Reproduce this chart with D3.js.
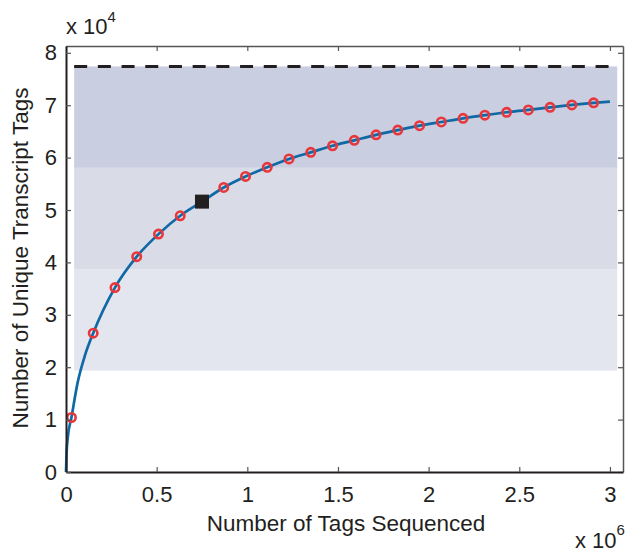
<!DOCTYPE html>
<html>
<head>
<meta charset="utf-8">
<script src="https://cdn.jsdelivr.net/npm/d3@7"></script>
<style>
  html, body { margin: 0; padding: 0; background: #fff; }
  svg text { font-family: "Liberation Sans", Arial, Helvetica, sans-serif; fill: #231f20; }
</style>
</head>
<body>
<svg id="chart" width="626" height="552"></svg>
<script>
// Tags sequenced (x 10^6) and unique transcript tags found (x 10^4)
const sampleTags   = [0.03, 0.15, 0.27, 0.39, 0.51, 0.63, 0.87, 0.99, 1.11, 1.23, 1.35, 1.47, 1.59,
                      1.71, 1.83, 1.95, 2.07, 2.19, 2.31, 2.43, 2.55, 2.67, 2.79, 2.91];
const sampleUnique = [1.04, 2.65, 3.52, 4.11, 4.54, 4.89, 5.43, 5.64, 5.815, 5.975, 6.10, 6.225, 6.33,
                      6.435, 6.525, 6.61, 6.68, 6.75, 6.81, 6.865, 6.91, 6.96, 7.005, 7.045];

// Saturation curve
const curveTags   = [0, 0.003, 0.01, 0.03, 0.065, 0.105, 0.15, 0.27, 0.39, 0.51, 0.63, 0.75, 0.87, 0.99,
                     1.11, 1.23, 1.35, 1.47, 1.59, 1.71, 1.83, 1.95, 2.07, 2.19, 2.31, 2.43, 2.55,
                     2.67, 2.79, 2.91, 3.0];
const curveUnique = [0, 0.35, 0.66, 1.04, 1.72, 2.23, 2.65, 3.52, 4.11, 4.54, 4.89, 5.16, 5.43, 5.64,
                     5.815, 5.975, 6.10, 6.225, 6.33, 6.435, 6.525, 6.61, 6.68, 6.75, 6.81, 6.865, 6.91,
                     6.96, 7.005, 7.045, 7.07];

// Current sequencing depth
const currentTags = 0.75;
const currentUnique = 5.16;

// Estimated total and quartile bands
const totalUnique = 7.74;
const bandLevels = [1.935, 3.87, 5.805, 7.74];
const bandColors = ["#e4e6ef", "#d9dce6", "#c9cee1"];
const bandExtent = [0.045, 3.04];

const xTicks = [0, 0.5, 1, 1.5, 2, 2.5, 3];
const xTickLabels = ["0", "0.5", "1", "1.5", "2", "2.5", "3"];
const yTicks = [0, 1, 2, 3, 4, 5, 6, 7, 8];
const yTickLabels = ["0", "1", "2", "3", "4", "5", "6", "7", "8"];

const svg = d3.select("#chart");
const plotLeft = 66, plotRight = 623, plotTop = 46, plotBottom = 472;

const x = d3.scaleLinear().domain([0, 3.072]).range([plotLeft, plotRight]);
const y = d3.scaleLinear().domain([0, 8.13]).range([plotBottom, plotTop]);

// Quartile bands
const bands = bandColors.map((c, i) => ({ lo: bandLevels[i], hi: bandLevels[i + 1], color: c }));
svg.append("g").selectAll("rect").data(bands).join("rect")
  .attr("x", x(bandExtent[0]))
  .attr("width", x(bandExtent[1]) - x(bandExtent[0]))
  .attr("y", d => y(d.hi))
  .attr("height", d => y(d.lo) - y(d.hi))
  .attr("fill", d => d.color);

// Estimated total
svg.append("line")
  .attr("x1", x(bandExtent[0])).attr("x2", x(bandExtent[1]))
  .attr("y1", y(totalUnique)).attr("y2", y(totalUnique))
  .attr("stroke", "#231f20").attr("stroke-width", 3)
  .attr("stroke-dasharray", "13,10.7");

// Curve
const curvePts = curveTags.map((t, i) => [t, curveUnique[i]]);
svg.append("path")
  .datum(curvePts)
  .attr("fill", "none")
  .attr("stroke", "#0f69a5")
  .attr("stroke-width", 2.7)
  .attr("d", d3.line().x(d => x(d[0])).y(d => y(d[1])).curve(d3.curveMonotoneX));

// Sample markers
svg.append("g").selectAll("circle")
  .data(sampleTags.map((t, i) => [t, sampleUnique[i]]))
  .join("circle")
  .attr("cx", d => x(d[0])).attr("cy", d => y(d[1]))
  .attr("r", 4.2)
  .attr("fill", "none")
  .attr("stroke", "#e8363a")
  .attr("stroke-width", 2.6);

// Current depth marker
const sq = 14;
svg.append("rect")
  .attr("x", x(currentTags) - sq / 2).attr("y", y(currentUnique) - sq / 2)
  .attr("width", sq).attr("height", sq)
  .attr("fill", "#231f20");

// Axes
function styleAxis(g, color, width) {
  g.select(".domain").attr("stroke", color).attr("stroke-width", width);
  g.selectAll(".tick line").attr("stroke", "#555").attr("stroke-width", 1.2);
  g.selectAll(".tick text").attr("font-size", 22).attr("fill", "#231f20")
    .style("font-family", '"Liberation Sans", Arial, Helvetica, sans-serif');
}

svg.append("g").attr("transform", `translate(0,${plotTop})`)
  .call(d3.axisTop(x).tickValues(xTicks).tickSizeInner(-5).tickSizeOuter(0).tickFormat(""))
  .call(g => styleAxis(g, "#555", 1.5));
svg.append("g").attr("transform", `translate(${plotRight},0)`)
  .call(d3.axisRight(y).tickValues(yTicks).tickSizeInner(-5).tickSizeOuter(0).tickFormat(""))
  .call(g => styleAxis(g, "#555", 1.5));

svg.append("g").attr("transform", `translate(0,${plotBottom})`)
  .call(d3.axisBottom(x).tickValues(xTicks).tickSizeInner(-5).tickSizeOuter(0)
    .tickPadding(14).tickFormat((d, i) => xTickLabels[i]))
  .call(g => styleAxis(g, "#231f20", 2));
svg.append("g").attr("transform", `translate(${plotLeft},0)`)
  .call(d3.axisLeft(y).tickValues(yTicks).tickSizeInner(-5).tickSizeOuter(0)
    .tickPadding(9).tickFormat((d, i) => yTickLabels[i]))
  .call(g => styleAxis(g, "#231f20", 2));

// Axis titles
svg.append("text")
  .attr("x", 346).attr("y", 531)
  .attr("text-anchor", "middle").attr("font-size", 22.5)
  .text("Number of Tags Sequenced");
svg.append("text")
  .attr("transform", "translate(28,258) rotate(-90)")
  .attr("text-anchor", "middle").attr("font-size", 22.5)
  .text("Number of Unique Transcript Tags");

// Exponent multipliers
const yMult = svg.append("text").attr("x", 66).attr("y", 34).attr("font-size", 22);
yMult.append("tspan").text("x 10");
yMult.append("tspan").attr("dy", -12).attr("font-size", 15).text("4");

const xMult = svg.append("text").attr("x", 575).attr("y", 548).attr("font-size", 22);
xMult.append("tspan").text("x 10");
xMult.append("tspan").attr("dy", -13).attr("font-size", 15).text("6");
</script>
</body>
</html>
